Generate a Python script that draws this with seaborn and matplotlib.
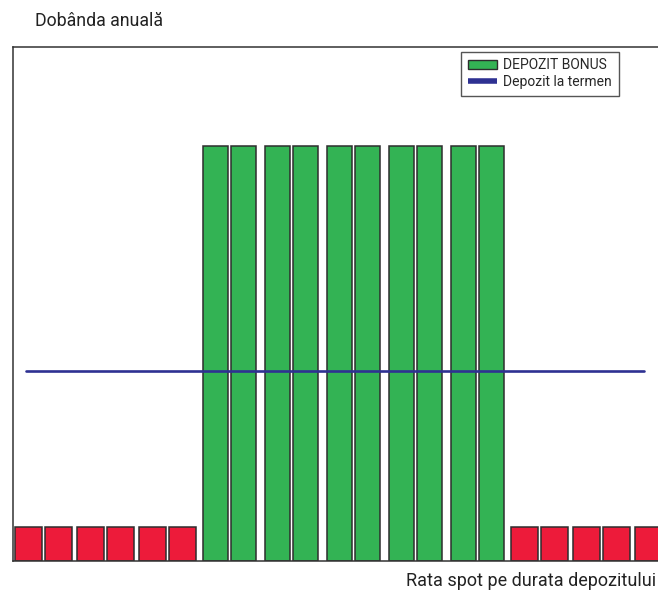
import pandas as pd
import matplotlib
matplotlib.use("Agg")
import matplotlib.pyplot as plt
import seaborn as sns
from matplotlib.patches import Patch
from matplotlib.lines import Line2D

# Spot-rate buckets along the x axis, two bars per bucket
spot_groups = ["G1", "G2", "G3", "G4", "G5", "G6", "G7", "G8", "G9", "G10", "G11"]
bar_slots = ["a", "b"]

# Low (red) payout when the spot rate is outside the corridor
low_groups = ["G1", "G1", "G2", "G2", "G3", "G3", "G9", "G9", "G10", "G10", "G11", "G11"]
low_slots = ["a", "b", "a", "b", "a", "b", "a", "b", "a", "b", "a", "b"]
low_values = [0.66, 0.66, 0.66, 0.66, 0.66, 0.66, 0.66, 0.66, 0.66, 0.66, 0.66, 0.66]

# Bonus (green) payout inside the corridor
bonus_groups = ["G4", "G4", "G5", "G5", "G6", "G6", "G7", "G7", "G8", "G8"]
bonus_slots = ["a", "b", "a", "b", "a", "b", "a", "b", "a", "b"]
bonus_values = [8.07, 8.07, 8.07, 8.07, 8.07, 8.07, 8.07, 8.07, 8.07, 8.07]

# Classic term deposit rate (flat line)
term_x = [-0.28, 9.69]
term_y = [3.70, 3.70]

red = "#ED1B3A"
green = "#33B354"
navy = "#2E3192"
edge = "#2d2d2d"

low_df = pd.DataFrame({"group": low_groups, "slot": low_slots, "value": low_values})
bonus_df = pd.DataFrame({"group": bonus_groups, "slot": bonus_slots, "value": bonus_values})

sns.set_style("white")
plt.rcParams["font.family"] = ["Roboto", "DejaVu Sans"]

fig = plt.figure(figsize=(6.58, 5.90), dpi=100)
# axes runs past the right edge of the figure, as in the source (cropped)
ax = fig.add_axes([12.7 / 658, 29 / 590, 681.6 / 658, 514 / 590])

sns.barplot(data=low_df, x="group", y="value", hue="slot", order=spot_groups,
            hue_order=bar_slots, palette=[red, red], width=0.97, gap=0.1,
            edgecolor=edge, linewidth=1.1, saturation=1, legend=False, ax=ax)
sns.barplot(data=bonus_df, x="group", y="value", hue="slot", order=spot_groups,
            hue_order=bar_slots, palette=[green, green], width=0.9, gap=0.12,
            edgecolor=edge, linewidth=1.1, saturation=1, legend=False, ax=ax)
sns.lineplot(x=term_x, y=term_y, color=navy, linewidth=1.9, ax=ax)

ax.set_xlim(-0.5, 10.5)
ax.set_ylim(0, 10)
ax.set_xticks([])
ax.set_yticks([])
ax.set_xlabel("")
ax.set_ylabel("")
for side in ["left", "top", "bottom"]:
    ax.spines[side].set_color("#333333")
    ax.spines[side].set_linewidth(1.1)
ax.spines["right"].set_visible(False)

fig.text(35 / 658, 1 - 12 / 590, "Dobânda anuală", ha="left", va="top",
         fontsize=12.8, color="#222222")
fig.text(656 / 658, 1 - 572 / 590, "Rata spot pe durata depozitului", ha="right",
         va="top", fontsize=13, color="#222222")

handles = [Patch(facecolor=green, edgecolor=edge, linewidth=1.0),
           Line2D([0], [0], color=navy, linewidth=4, solid_capstyle="butt")]
leg = fig.legend(handles, ["DEPOZIT BONUS", "Depozit la termen"],
                 loc="upper right", bbox_to_anchor=(618.5 / 658, 1 - 51.5 / 590),
                 fontsize=10, frameon=True, fancybox=False, framealpha=1,
                 edgecolor="#555555", borderpad=0.5, labelspacing=0.2,
                 handlelength=2.1, handletextpad=0.4, borderaxespad=0)
leg.get_frame().set_linewidth(1.0)

fig.savefig("out.png", dpi=100)
